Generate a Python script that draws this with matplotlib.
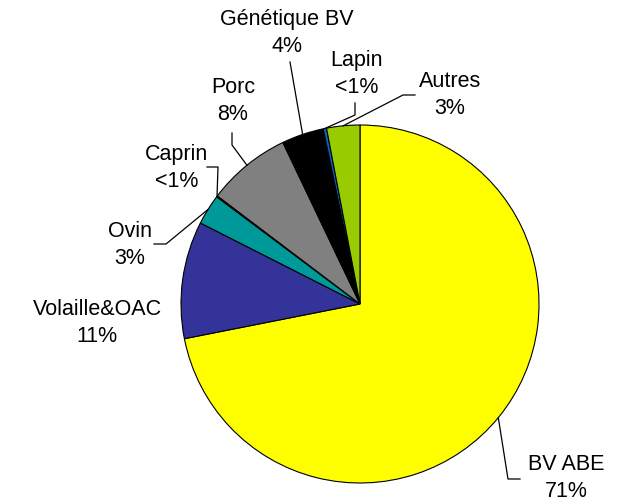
import numpy as np
import matplotlib
matplotlib.use("Agg")
import matplotlib.pyplot as plt

labels = ["BV ABE", "Volaille&OAC", "Ovin", "Caprin", "Porc", "Génétique BV", "Lapin", "Autres"]
values = [72.0, 10.6, 2.75, 0.1, 7.6, 3.8, 0.3, 3.0]
pct_text = ["71%", "11%", "3%", "<1%", "8%", "4%", "<1%", "3%"]
colors = ["#FFFF00", "#333399", "#009999", "#C0C0C0", "#808080", "#000000", "#0066CC", "#99CC00"]

# label block centres in pixels (style)
label_px = [(566, 478), (97, 323), (130, 245), (177, 168), (233, 101), (287, 33), (357, 74), (450, 95)]
# leader line remaining points in pixels (after the point on the pie edge)
leader_px = [
    [(508, 479), (520, 479)],
    None,
    [(166, 244), (154, 244)],
    [(218, 167), (207, 167)],
    [(232, 145), (232, 133)],
    [(290, 62)],
    [(355, 115), (355, 103)],
    [(403, 95), (415, 95)],
]

W, H = 617, 504
CX, CY, R = 360, 304, 179
fig = plt.figure(figsize=(W / 100, H / 100), dpi=100)
ax = fig.add_axes([(CX - R) / W, (H - CY - R) / H, 2 * R / W, 2 * R / H])

wedges, _ = ax.pie(values, colors=colors, startangle=90, counterclock=False, radius=1,
                   wedgeprops=dict(edgecolor="black", linewidth=0.8))
ax.set_xlim(-1, 1)
ax.set_ylim(-1, 1)
ax.set_aspect("equal")
ax.axis("off")

def p2d(px, py):
    return (px - CX) / R, (CY - py) / R

font = ["Liberation Sans", "DejaVu Sans"]
for w, lab, pt, lpos, lead in zip(wedges, labels, pct_text, label_px, leader_px):
    x, y = p2d(*lpos)
    ax.text(x, y, f"{lab}\n{pt}", ha="center", va="center", fontsize=15.5,
            family=font, linespacing=1.32, clip_on=False)
    if lead:
        mid = np.deg2rad((w.theta1 + w.theta2) / 2)
        xs = [np.cos(mid)]
        ys = [np.sin(mid)]
        for (qx, qy) in lead:
            dx, dy = p2d(qx, qy)
            xs.append(dx)
            ys.append(dy)
        ax.plot(xs, ys, color="black", linewidth=0.9, clip_on=False)

for w in wedges:
    w.set_clip_on(False)

fig.savefig("out.png", dpi=100, facecolor="white")
